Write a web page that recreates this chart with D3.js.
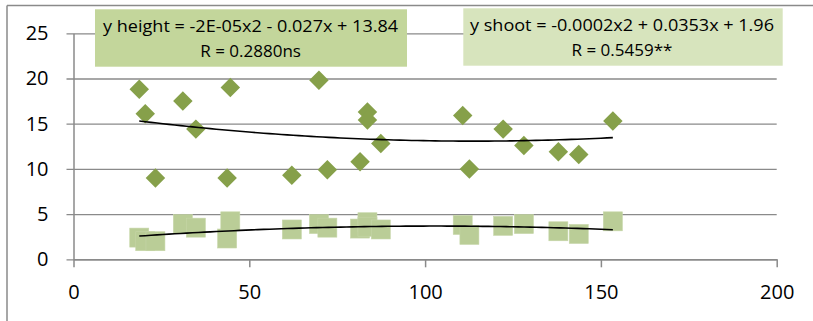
<!DOCTYPE html>
<html><head><meta charset="utf-8">
<script src="https://cdn.jsdelivr.net/npm/d3@7"></script>
<style>
html,body{margin:0;padding:0;background:#fff;}
svg{display:block;}
text{font-family:"Open Sans","Noto Sans",sans-serif;fill:#000;}
</style></head><body>
<svg id="chart" width="813" height="321"></svg>
<script>
// ---- data ----
const xValues = [18.7, 20.4, 23.3, 31.1, 34.8, 43.7, 44.6, 62.1, 69.8, 72.2, 81.5, 83.6, 83.6, 87.4, 110.7, 112.6, 122.2, 128.1, 137.9, 143.7, 153.4];
const heightValues = [18.8, 16.1, 9.0, 17.5, 14.4, 9.0, 19.0, 9.3, 19.8, 9.9, 10.8, 16.3, 15.4, 12.8, 15.9, 10.0, 14.4, 12.6, 11.9, 11.6, 15.3];
const shootValues = [2.4, 2.0, 2.0, 3.9, 3.5, 2.3, 4.2, 3.3, 3.9, 3.5, 3.4, 4.1, 3.6, 3.3, 3.8, 2.7, 3.7, 3.9, 3.1, 2.8, 4.2];
const xTicks = [0, 50, 100, 150, 200];
const yTicks = [0, 5, 10, 15, 20, 25];
const heightLabel = ["y height = -2E-05x2 - 0.027x + 13.84", "R = 0.2880ns"];
const shootLabel = ["y shoot = -0.0002x2 + 0.0353x + 1.96", "R = 0.5459**"];

// ---- helpers ----
function quadFit(xs, ys) {
  let n = xs.length, s1=0,s2=0,s3=0,s4=0,t0=0,t1=0,t2=0;
  for (let i=0;i<n;i++){const x=xs[i],y=ys[i];s1+=x;s2+=x*x;s3+=x*x*x;s4+=x*x*x*x;t0+=y;t1+=x*y;t2+=x*x*y;}
  const A=[[n,s1,s2,t0],[s1,s2,s3,t1],[s2,s3,s4,t2]];
  for (let c=0;c<3;c++){for(let r=c+1;r<3;r++){const f=A[r][c]/A[c][c];for(let k=c;k<4;k++)A[r][k]-=f*A[c][k];}}
  const b=[0,0,0];
  for (let r=2;r>=0;r--){let s=A[r][3];for(let k=r+1;k<3;k++)s-=A[r][k]*b[k];b[r]=s/A[r][r];}
  return x=>b[0]+b[1]*x+b[2]*x*x;
}

const svg = d3.select("#chart");
const x = d3.scaleLinear().domain([0, 200]).range([73.5, 776.7]);
const y = d3.scaleLinear().domain([0, 25]).range([259.3, 33.3]);
const grey = "#8a8a8a";

// outer frame (only top and left visible)
svg.append("line").attr("x1",7).attr("x2",813).attr("y1",5.5).attr("y2",5.5).attr("stroke",grey).attr("stroke-width",1.5);
svg.append("line").attr("x1",7).attr("x2",7).attr("y1",5.5).attr("y2",321).attr("stroke",grey).attr("stroke-width",1.5);

// gridlines + y ticks
const yAxis = svg.append("g").attr("transform", `translate(${x(0)},0)`)
  .call(d3.axisLeft(y).tickValues(yTicks).tickSizeInner(-(x(200)-x(0))).tickSizeOuter(0).tickPadding(25));
yAxis.select(".domain").attr("stroke", grey).attr("stroke-width",1.5);
yAxis.selectAll(".tick line").attr("stroke", grey).attr("stroke-width",1.3).attr("x1",-7);
yAxis.selectAll(".tick text").attr("font-size",20).attr("font-family","'Open Sans',sans-serif").attr("fill","#000");

const xAxis = svg.append("g").attr("transform", `translate(0,${y(0)})`)
  .call(d3.axisBottom(x).tickValues(xTicks).tickSizeInner(8).tickSizeOuter(0).tickPadding(17.5));
xAxis.select(".domain").attr("stroke", grey).attr("stroke-width",1.5);
xAxis.selectAll(".tick line").attr("stroke", grey).attr("stroke-width",1.5);
xAxis.selectAll(".tick text").attr("font-size",20).attr("font-family","'Open Sans',sans-serif").attr("fill","#000");

// points
const pts = xValues.map((xv,i)=>({x:xv,h:heightValues[i],s:shootValues[i]}));
svg.append("g").selectAll("path").data(pts).join("path")
  .attr("d", d3.symbol(d3.symbolSquare, 190)())
  .attr("transform", d=>`translate(${x(d.x)},${y(d.h)}) rotate(45)`)
  .attr("fill","#86a04a");
svg.append("g").selectAll("rect").data(pts).join("rect")
  .attr("x", d=>x(d.x)-9.5).attr("y", d=>y(d.s)-9.5).attr("width",19).attr("height",19)
  .attr("fill","#bacd97").attr("stroke","#c6d6a8").attr("stroke-width",0.6);

// trend lines
const ext = d3.extent(xValues);
const xs = d3.range(ext[0], ext[1]+0.01, (ext[1]-ext[0])/80);
const fh = quadFit(xValues, heightValues), fs = quadFit(xValues, shootValues);
const line = d3.line().x(d=>x(d[0])).y(d=>y(d[1])).curve(d3.curveLinear);
svg.append("path").attr("d", line(xs.map(v=>[v,fh(v)]))).attr("fill","none").attr("stroke","#000").attr("stroke-width",1.6);
svg.append("path").attr("d", line(xs.map(v=>[v,fs(v)]))).attr("fill","none").attr("stroke","#000").attr("stroke-width",1.6);

// labels
function box(x0,y0,w,h,fill,lines,cx,w1){
  svg.append("rect").attr("x",x0).attr("y",y0).attr("width",w).attr("height",h).attr("fill",fill);
  svg.append("text").attr("x",cx).attr("y",y0+23).attr("text-anchor","middle").attr("font-size",17)
    .attr("textLength",w1).attr("lengthAdjust","spacingAndGlyphs").text(lines[0]);
  svg.append("text").attr("x",cx).attr("y",y0+47.5).attr("text-anchor","middle").attr("font-size",17).text(lines[1]);
}
box(95,9.3,312,57.4,"#c3d69b",heightLabel,250.6,295);
box(463.3,8.3,319.4,57.4,"#d7e4bd",shootLabel,622,304);
</script>
</body></html>
